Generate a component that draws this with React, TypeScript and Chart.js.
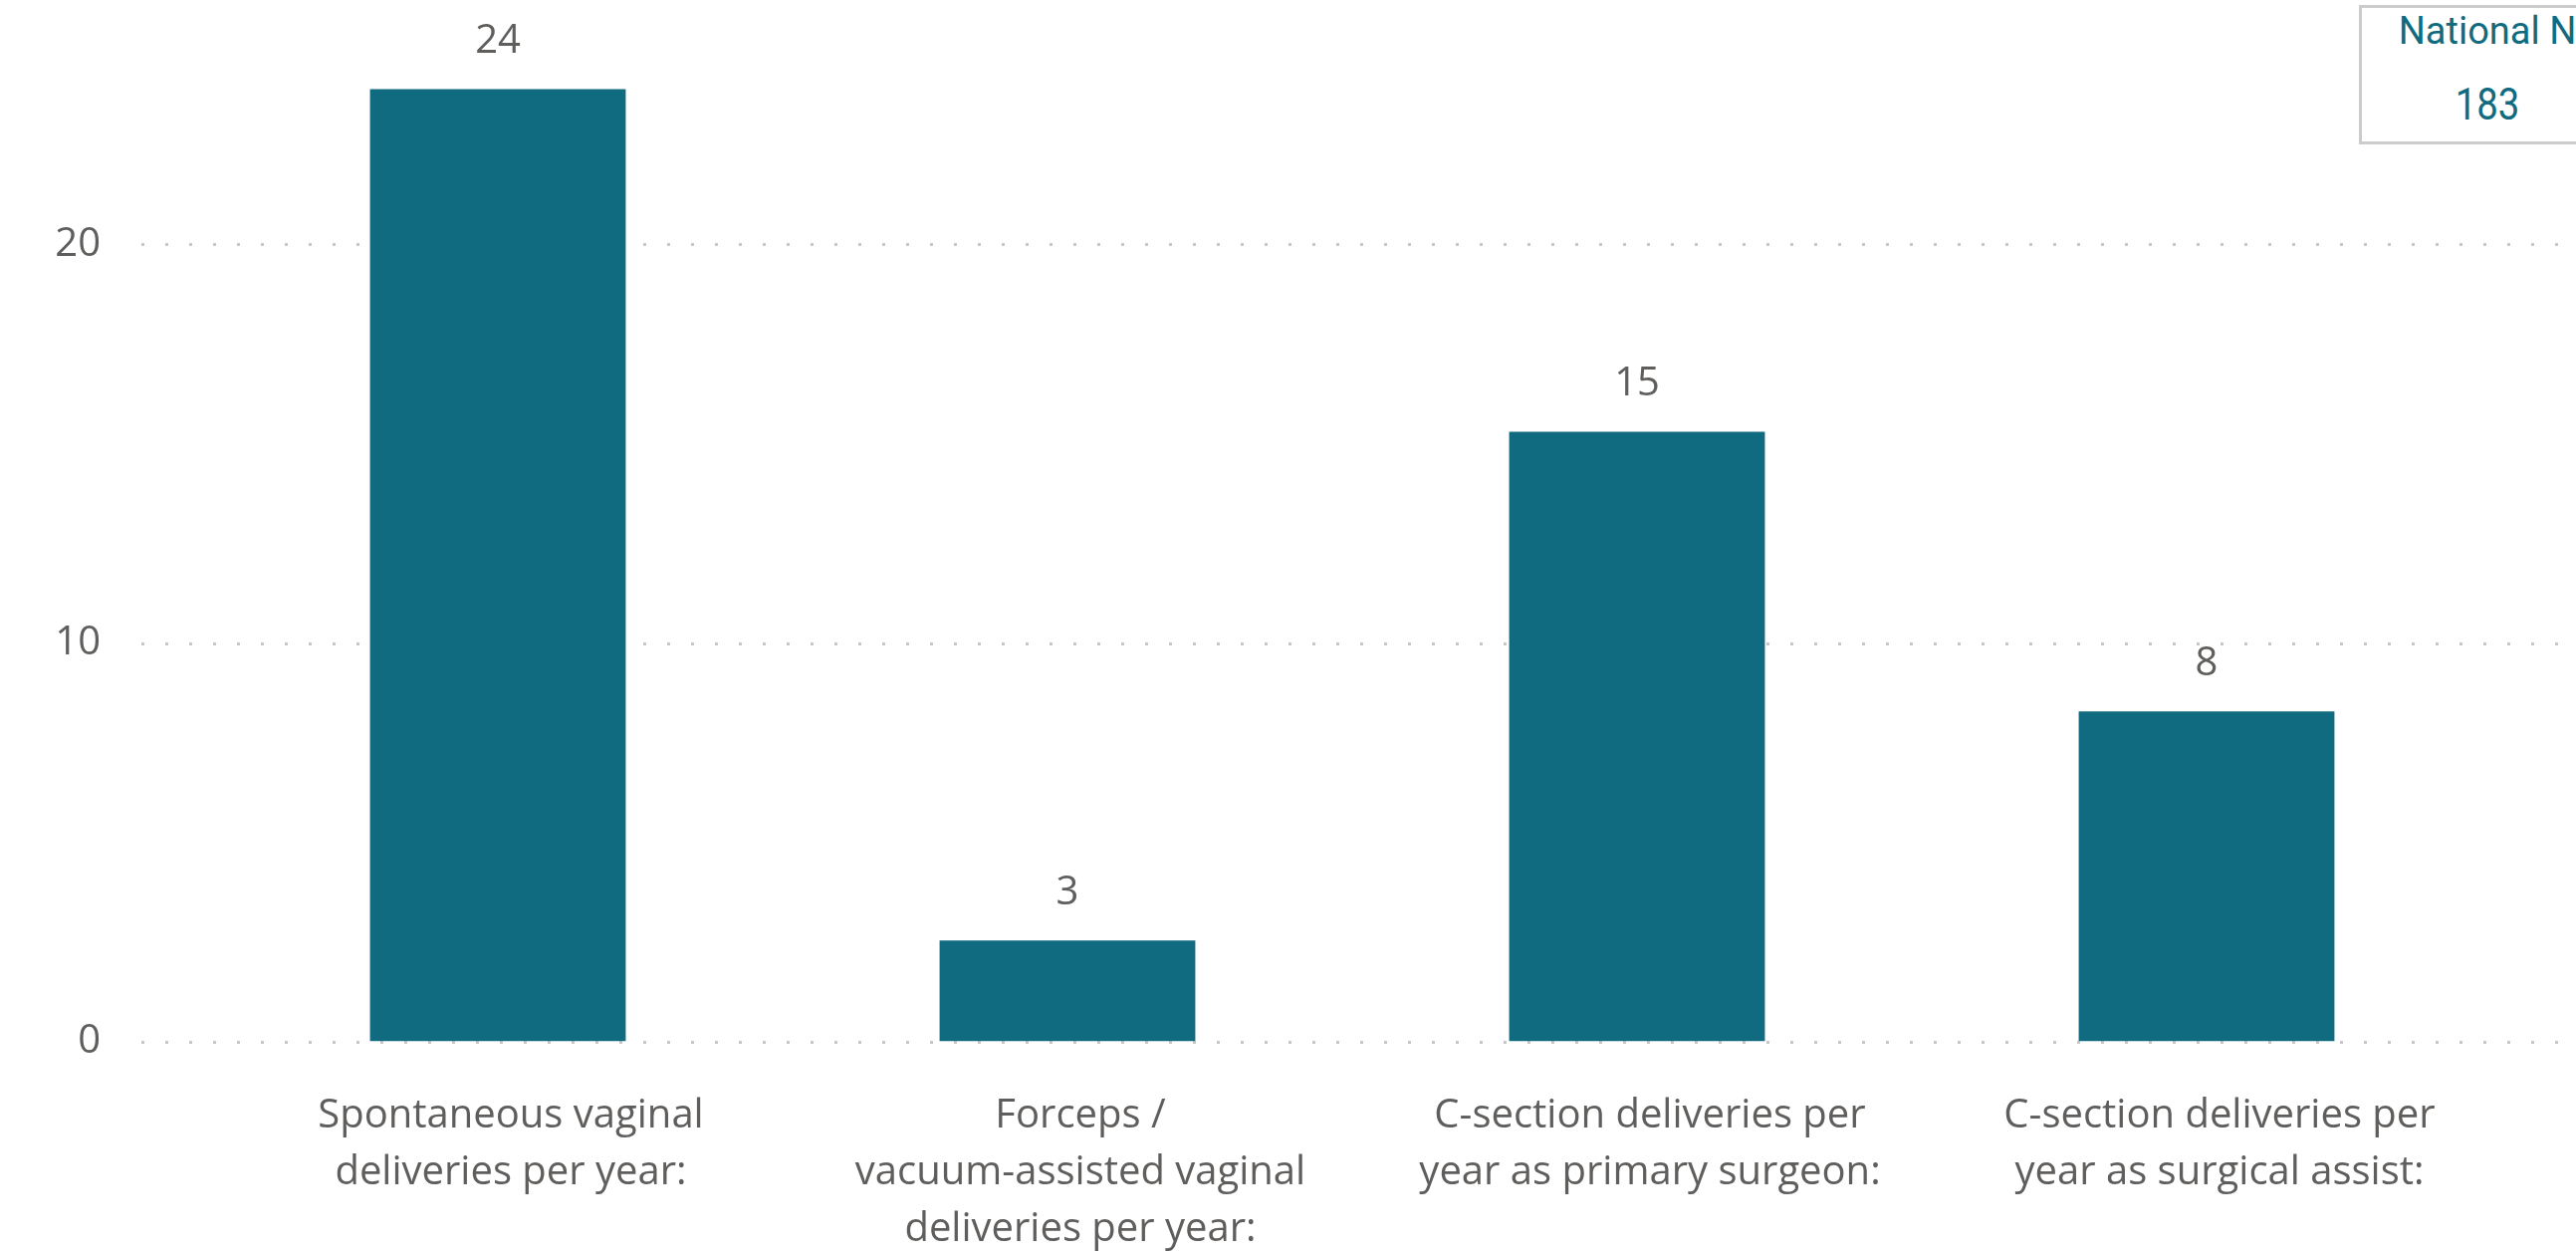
import React, { useEffect, useRef } from "react";
import { Chart, registerables } from "chart.js";

Chart.register(...registerables);

// ---------- data ----------
const categories: string[][] = [
  ["Spontaneous vaginal", "deliveries per year:"],
  ["Forceps /", "vacuum-assisted vaginal", "deliveries per year:"],
  ["C-section deliveries per", "year as primary surgeon:"],
  ["C-section deliveries per", "year as surgical assist:"],
];
const values: number[] = [23.9, 2.53, 15.3, 8.28];
const yTicks: number[] = [0, 10, 20];
const cardTitle = "National N";
const cardValue = "183";

// ---------- styles ----------
const FONT = "'Open Sans', 'Noto Sans', sans-serif";
const CARD_FONT = "Roboto, 'Noto Sans', sans-serif";
const TEXT = "#605E5C";
const BAR = "#106B81";
const GRID = "#C8C8C8";

const dottedGrid = {
  id: "dottedGrid",
  beforeDatasetsDraw(chart: any) {
    const ys = chart.scales.y;
    const area = chart.chartArea;
    const ctx = chart.ctx;
    ctx.save();
    ctx.strokeStyle = GRID;
    ctx.lineWidth = 3;
    ctx.setLineDash([3, 21]);
    ys.ticks.forEach((t: any) => {
      const py = Math.round(ys.getPixelForValue(t.value)) + 0.5;
      ctx.beginPath();
      ctx.moveTo(area.left - 72, py);
      ctx.lineTo(area.right + 72, py);
      ctx.stroke();
    });
    ctx.restore();
  },
};

const valueLabels = {
  id: "valueLabels",
  afterDatasetsDraw(chart: any) {
    const ctx = chart.ctx;
    const meta = chart.getDatasetMeta(0);
    const data = chart.data.datasets[0].data as number[];
    ctx.save();
    ctx.fillStyle = TEXT;
    ctx.font = `40px ${FONT}`;
    ctx.textAlign = "center";
    ctx.textBaseline = "middle";
    meta.data.forEach((bar: any, i: number) => {
      ctx.fillText(String(Math.round(data[i])), bar.x, bar.y - 48);
    });
    ctx.restore();
  },
};

function BarChart() {
  const ref = useRef<HTMLCanvasElement | null>(null);
  useEffect(() => {
    if (!ref.current) return;
    const chart = new Chart(ref.current, {
      type: "bar",
      data: {
        labels: categories as any,
        datasets: [
          {
            data: values,
            backgroundColor: BAR,
            borderWidth: 0,
            categoryPercentage: 1,
            barPercentage: 0.449,
          },
        ],
      },
      options: {
        animation: false,
        responsive: false,
        maintainAspectRatio: false,
        layout: { padding: { top: 5.5, right: 85, left: 0, bottom: 0 } },
        plugins: { legend: { display: false }, tooltip: { enabled: false } },
        scales: {
          x: {
            type: "category",
            offset: true,
            grid: { display: false, drawTicks: false },
            border: { display: false },
            ticks: {
              color: TEXT,
              font: { family: FONT, size: 40, lineHeight: 1.425 },
              padding: 47,
              labelOffset: 13,
              maxRotation: 0,
              minRotation: 0,
              autoSkip: false,
            },
            afterFit: (s: any) => {
              s.height = 211.5;
              s.paddingLeft = 0;
              s.paddingRight = 0;
            },
          },
          y: {
            min: 0,
            max: 26,
            bounds: "data",
            grid: { display: false, drawTicks: false },
            border: { display: false },
            ticks: {
              color: TEXT,
              font: { family: FONT, size: 40 },
              padding: 113,
              includeBounds: false,
            },
            afterBuildTicks: (s: any) => {
              s.ticks = yTicks.map((v) => ({ value: v }));
            },
            afterFit: (s: any) => {
              s.width = 214;
              s.paddingTop = 0;
              s.paddingBottom = 0;
            },
          },
        },
      },
      plugins: [dottedGrid, valueLabels],
    } as any);
    return () => chart.destroy();
  }, []);
  return <canvas ref={ref} width={2587} height={1257} style={{ display: "block" }} />;
}

export default function App() {
  return (
    <div
      style={{
        position: "fixed",
        left: 0,
        top: 0,
        width: 2587,
        height: 1257,
        overflow: "hidden",
        background: "#ffffff",
      }}
    >
      <BarChart />
      <div
        style={{
          position: "absolute",
          left: 2369,
          top: 5,
          width: 258,
          height: 140,
          border: "3px solid #CCCCCC",
          boxSizing: "border-box",
          background: "#ffffff",
        }}
      >
        <div
          style={{
            position: "absolute",
            left: 0,
            right: 0,
            top: 3,
            textAlign: "center",
            fontFamily: CARD_FONT,
            fontSize: 38,
            lineHeight: "40px",
            color: BAR,
            whiteSpace: "nowrap",
          }}
        >
          {cardTitle}
        </div>
        <div
          style={{
            position: "absolute",
            left: 0,
            right: 0,
            top: 72,
            textAlign: "center",
            fontFamily: CARD_FONT,
            fontSize: 44,
            lineHeight: "50px",
            color: BAR,
            whiteSpace: "nowrap",
            transform: "scaleX(0.87)",
          }}
        >
          {cardValue}
        </div>
      </div>
    </div>
  );
}
